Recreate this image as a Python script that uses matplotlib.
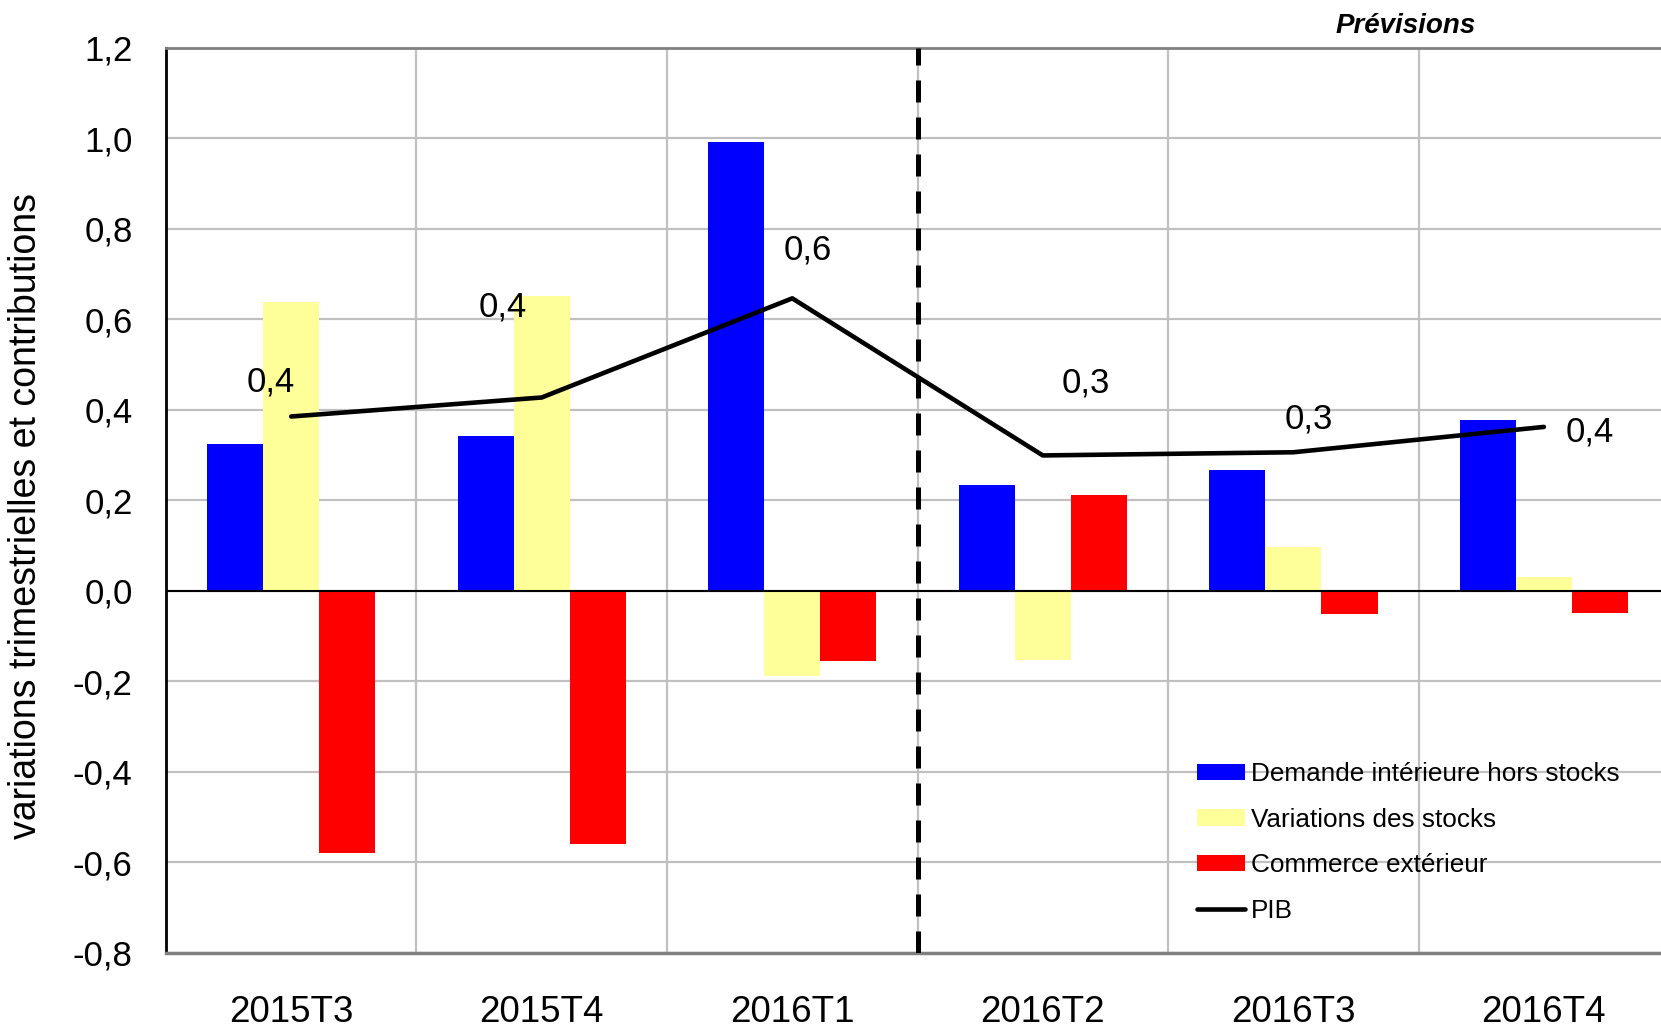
# ==========================================================
# PIB - CONTRIBUTIONS A LA CROISSANCE TRIMESTRIELLE
# ==========================================================

import matplotlib
matplotlib.use("Agg")
import numpy as np
import matplotlib.pyplot as plt
from matplotlib.ticker import FuncFormatter

# ==========================================================
# DONNÉES
# ==========================================================

trimestres = ["2015T3", "2015T4", "2016T1", "2016T2", "2016T3", "2016T4"]

demande_interieure = [0.324, 0.341, 0.992, 0.233, 0.266, 0.378]
variations_stocks = [0.639, 0.651, -0.189, -0.152, 0.096, 0.030]
commerce_exterieur = [-0.579, -0.560, -0.154, 0.212, -0.051, -0.049]
pib = [0.385, 0.427, 0.646, 0.299, 0.306, 0.362]

etiquettes_pib = ["0,4", "0,4", "0,6", "0,3", "0,3", "0,4"]
decalage_etiquettes = [(-15, 25), (-28, 65), (11, 35), (31, 52), (11, 24), (33, -4)]

graduations_y = [-0.8, -0.6, -0.4, -0.2, 0.0, 0.2, 0.4, 0.6, 0.8, 1.0, 1.2]

# ==========================================================
# CONFIGURATIONS
# ==========================================================

plt.rcParams["font.family"] = ["Liberation Sans", "DejaVu Sans"]

BLEU = "#0000FF"
JAUNE = "#FFFF99"
ROUGE = "#FF0000"
GRIS = "#C0C0C0"


def grafico():

    fig = plt.figure(figsize=(16.61, 10.27), dpi=100)
    ax = fig.add_axes([0.0999, 0.0721, 0.905, 0.8816])

    x = np.arange(len(trimestres))
    largeur = 0.224

    b1 = ax.bar(x - largeur, demande_interieure, largeur, color=BLEU,
                label="Demande intérieure hors stocks", zorder=3)
    b2 = ax.bar(x, variations_stocks, largeur, color=JAUNE,
                label="Variations des stocks", zorder=3)
    b3 = ax.bar(x + largeur, commerce_exterieur, largeur, color=ROUGE,
                label="Commerce extérieur", zorder=3)

    l1, = ax.plot(x, pib, color="black", lw=3.3, label="PIB", zorder=5,
                  solid_capstyle="round")

    for xi, yi, txt, (dx, dy) in zip(x, pib, etiquettes_pib, decalage_etiquettes):
        ax.annotate(txt, (xi, yi), xytext=(dx, dy), textcoords="offset points",
                    ha="center", va="center", fontsize=25, zorder=6)

    # axes
    ax.set_xlim(-0.5, len(trimestres) - 0.5)
    ax.set_ylim(-0.8, 1.2)
    ax.set_yticks(graduations_y)
    ax.yaxis.set_major_formatter(
        FuncFormatter(lambda v, p: f"{v:.1f}".replace(".", ",")))
    ax.set_xticks(x)
    ax.set_xticklabels(trimestres, fontsize=26.5)
    ax.set_xticks(np.arange(len(trimestres) + 1) - 0.5, minor=True)

    ax.tick_params(axis="y", length=0, labelsize=25, pad=24)
    ax.tick_params(axis="x", which="both", length=0, pad=30)

    ax.grid(axis="y", which="major", color=GRIS, lw=1.6, zorder=0)
    ax.grid(axis="x", which="minor", color=GRIS, lw=1.6, zorder=0)
    ax.grid(axis="x", which="major", visible=False)

    ax.axhline(0, color="black", lw=1.5, zorder=4)
    ax.axvline(2.5, color="black", lw=3.6, dashes=(4.4, 3.0), zorder=4)

    ax.spines["left"].set_color("black")
    ax.spines["left"].set_linewidth(2)
    ax.spines["top"].set_color("#808080")
    ax.spines["top"].set_linewidth(2)
    ax.spines["bottom"].set_color("#808080")
    ax.spines["bottom"].set_linewidth(2.5)
    ax.spines["right"].set_visible(False)

    ax.set_ylabel("variations trimestrielles et contributions", fontsize=27)
    ax.yaxis.set_label_coords(-0.081, 0.483)

    fig.text(0.8465, 0.9745, "Prévisions", fontsize=20, fontweight="bold",
             fontstyle="italic", ha="center", va="center")

    ax.legend([b1, b2, b3, l1],
              [b1.get_label(), b2.get_label(), b3.get_label(), l1.get_label()],
              loc="upper left", bbox_to_anchor=(0.7207, 0.258),
              bbox_transform=fig.transFigure, frameon=False, fontsize=18.8,
              borderpad=0, borderaxespad=0, handlelength=1.85,
              handleheight=0.6, handletextpad=0.2, labelspacing=0.83)

    fig.savefig("out.png", dpi=100)


def main():

    grafico()


if __name__ == "__main__":

    main()
